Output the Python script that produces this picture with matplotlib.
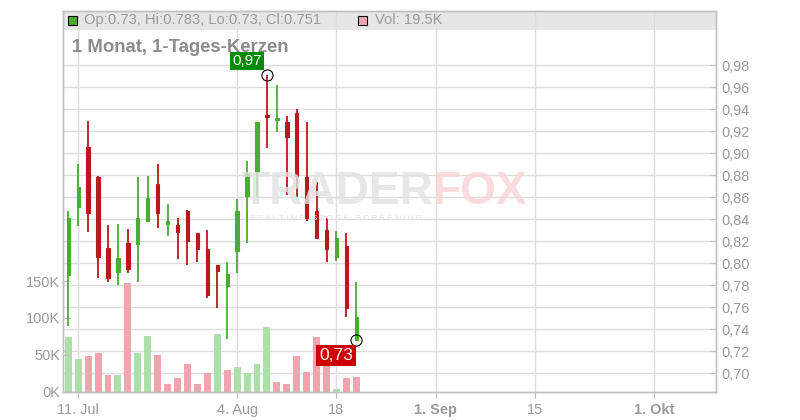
import numpy as np
import matplotlib
matplotlib.use("Agg")
import matplotlib.pyplot as plt
from matplotlib.patches import Rectangle
from matplotlib.lines import Line2D
import matplotlib.transforms as mtransforms

# ---------------- data ----------------
dates = ["2025-07-10", "2025-07-11", "2025-07-14", "2025-07-15", "2025-07-16",
         "2025-07-17", "2025-07-18", "2025-07-21", "2025-07-22", "2025-07-23",
         "2025-07-24", "2025-07-25", "2025-07-28", "2025-07-29", "2025-07-30",
         "2025-07-31", "2025-08-01", "2025-08-04", "2025-08-05", "2025-08-06",
         "2025-08-07", "2025-08-08", "2025-08-11", "2025-08-12", "2025-08-13",
         "2025-08-14", "2025-08-15", "2025-08-18", "2025-08-19", "2025-08-20"]
opens = [0.789, 0.851, 0.906, 0.878, 0.814, 0.792, 0.818, 0.817, 0.838, 0.872,
         0.836, 0.835, 0.847, 0.827, 0.813, 0.798, 0.779, 0.811, 0.861, 0.883,
         0.935, 0.930, 0.928, 0.936, 0.878, 0.847, 0.830, 0.806, 0.816, 0.730]
highs = [0.847, 0.890, 0.929, 0.879, 0.835, 0.836, 0.831, 0.878, 0.879, 0.890,
         0.854, 0.841, 0.848, 0.827, 0.830, 0.798, 0.801, 0.858, 0.893, 0.928,
         0.971, 0.962, 0.934, 0.940, 0.928, 0.874, 0.841, 0.829, 0.827, 0.783]
lows = [0.743, 0.834, 0.828, 0.787, 0.783, 0.780, 0.791, 0.783, 0.838, 0.832,
        0.825, 0.804, 0.798, 0.801, 0.768, 0.759, 0.731, 0.791, 0.818, 0.860,
        0.905, 0.919, 0.862, 0.860, 0.838, 0.823, 0.801, 0.802, 0.751, 0.730]
closes = [0.841, 0.869, 0.846, 0.806, 0.787, 0.805, 0.795, 0.841, 0.859, 0.846,
          0.838, 0.828, 0.820, 0.813, 0.771, 0.793, 0.790, 0.847, 0.882, 0.928,
          0.933, 0.932, 0.915, 0.879, 0.841, 0.823, 0.813, 0.823, 0.759, 0.751]
volumes_k = [74, 44, 48, 53, 22, 22, 147, 53, 76, 50, 11, 19, 37, 11, 25,
             78, 30, 33, 26, 38, 88, 13, 11, 48, 27, 74, 55, 3, 18, 19.5]

x_tick_dates = ["2025-07-11", "2025-08-04", "2025-08-18", "2025-09-01", "2025-09-15", "2025-10-01"]
x_tick_labels = ["11. Jul", "4. Aug", "18", "1. Sep", "15", "1. Okt"]
x_tick_bold = [False, False, False, True, False, True]
price_ticks = [0.70, 0.72, 0.74, 0.76, 0.78, 0.80, 0.82, 0.84, 0.86, 0.88,
               0.90, 0.92, 0.94, 0.96, 0.98]
vol_ticks = [0, 50, 100, 150]
vol_tick_labels = ["0K", "50K", "100K", "150K"]
max_label = "0,97"
min_label = "0,73"
title_text = "1 Monat, 1-Tages-Kerzen"
legend_text = "Op:0.73, Hi:0.783, Lo:0.73, Cl:0.751"
vol_legend_text = "Vol: 19.5K"

# ---------------- style ----------------
plt.rcParams['font.family'] = ['Liberation Sans', 'DejaVu Sans']
W, H = 800, 420
GREEN = "#4aac34"
RED = "#b8191c"
VGREEN = "#addfa9"
VRED = "#eea5ad"
GRID = "#dddddd"
AXC = "#c0c0c0"
TXT = "#9a9a9a"

def px2pt(px):
    return px * 72 / 100

fig = plt.figure(figsize=(8, 4.2), dpi=100)
L, R, T, B = 63, 716, 11, 392
axv = fig.add_axes([L / W, 1 - B / H, (R - L) / W, (B - T) / H])
ax = axv.twinx()

base = np.datetime64(dates[0])
xs = np.array([np.busday_count(base, np.datetime64(d)) for d in dates])
xticks = [np.busday_count(base, np.datetime64(d)) for d in x_tick_dates]

xlim = (-0.53, 65.2)
axv.set_xlim(*xlim)
ax.set_xlim(*xlim)
ax.set_ylim(0.683, 1.0291)
axv.set_ylim(-0.4, 516.3)

# legend bar background
axv.add_patch(Rectangle((0, 1 - 19 / (B - T)), 1, 19 / (B - T), transform=axv.transAxes,
                        facecolor="#e6e6e6", edgecolor="none", zorder=0.1))

# gridlines (behind volume bars)
for xt in xticks:
    axv.axvline(xt, color=GRID, lw=1, zorder=0.5)
blend = mtransforms.blended_transform_factory(axv.transAxes, ax.transData)
for p in price_ticks:
    axv.add_line(Line2D([0, 1], [p, p], transform=blend, color=GRID, lw=1, zorder=0.5))

# watermark
fig.text(433 / W, 1 - 192 / H, "TRADER", ha="right", va="center", fontsize=px2pt(46),
         fontweight="bold", color="#e2e2e2", zorder=0.2, alpha=0.8)
fig.text(433 / W, 1 - 192 / H, "FOX", ha="left", va="center", fontsize=px2pt(46),
         fontweight="bold", color="#f9d4d8", zorder=0.2, alpha=0.8)
fig.text(250 / W, 1 - 218 / H, "R E A L T I M E   S T O C K   S C R E E N I N G",
         ha="left", va="center", fontsize=px2pt(8.3), color="#e2e2e2", zorder=0.2)

# volume bars
vcols = [VGREEN] + [VGREEN if closes[i] >= closes[i - 1] else VRED for i in range(1, len(closes))]
axv.bar(xs, volumes_k, width=0.7, color=vcols, zorder=1)

# candles
for x, o, h, l, c in zip(xs, opens, highs, lows, closes):
    col = GREEN if c >= o else RED
    ax.vlines(x, l, h, color=col, lw=1.3, zorder=3)
    lo, hi = min(o, c), max(o, c)
    ax.add_patch(Rectangle((x - 0.17, lo), 0.34, max(hi - lo, 0.0015), facecolor=col,
                           edgecolor=col, lw=0.8, zorder=3))

# max / min markers and labels
imax = int(np.argmax(highs))
imin = int(np.argmin(lows))
ax.plot(xs[imax], highs[imax], marker="o", ms=8, mfc="none", mec="black", mew=0.8, zorder=5)
ax.plot(xs[imin], lows[imin], marker="o", ms=8, mfc="none", mec="black", mew=0.8, zorder=5)
ax.annotate(max_label, (xs[imax], highs[imax]), xytext=(-20, 14), textcoords="offset pixels",
            ha="center", va="center", color="white", fontsize=px2pt(15), zorder=6,
            bbox=dict(boxstyle="square,pad=0.15", fc="#008a00", ec="none"))
ax.annotate(min_label, (xs[imin], lows[imin]), xytext=(-20, -15), textcoords="offset pixels",
            ha="center", va="center", color="white", fontsize=px2pt(17.5), zorder=6,
            bbox=dict(boxstyle="square,pad=0.18", fc="#cc0000", ec="none"))

# axes styling
for a in (ax, axv):
    for s in a.spines.values():
        s.set_color(AXC)
        s.set_linewidth(1)

axv.set_xticks(xticks)
axv.set_xticklabels(x_tick_labels)
for lab, b in zip(axv.get_xticklabels(), x_tick_bold):
    lab.set_fontweight("bold" if b else "normal")
axv.tick_params(axis="x", colors=AXC, labelcolor=TXT, labelsize=px2pt(14.5), length=4, pad=4)
ax.tick_params(axis="x", bottom=False, labelbottom=False)

axv.set_yticks(vol_ticks)
axv.set_yticklabels(vol_tick_labels)
axv.tick_params(axis="y", direction="in", colors=AXC, labelcolor=TXT, labelsize=px2pt(14.5),
                length=5, pad=2)
for lab in axv.get_yticklabels():
    lab.set_horizontalalignment("right")

ax.set_yticks(price_ticks)
ax.set_yticklabels([f"{p:.2f}".replace(".", ",") for p in price_ticks])
ax.tick_params(axis="y", direction="in", colors=AXC, labelcolor=TXT, labelsize=px2pt(14.5),
               length=4, pad=4)

# legend row and title
fig.patches.append(Rectangle((68 / W, 1 - 25 / H), 9 / W, 9 / H, transform=fig.transFigure,
                             facecolor=GREEN, edgecolor="black", lw=0.8, figure=fig))
fig.text(84 / W, 1 - 20 / H, legend_text, ha="left", va="center", fontsize=px2pt(14.8),
         color=TXT)
fig.patches.append(Rectangle((358 / W, 1 - 25 / H), 9 / W, 9 / H, transform=fig.transFigure,
                             facecolor=VRED, edgecolor="black", lw=0.8, figure=fig))
fig.text(375 / W, 1 - 20 / H, vol_legend_text, ha="left", va="center", fontsize=px2pt(14.8),
         color=TXT)
fig.text(72 / W, 1 - 47 / H, title_text, ha="left", va="center", fontsize=px2pt(18.5),
         fontweight="bold", color="#8c8c8c")

fig.savefig("out.png", dpi=100)
